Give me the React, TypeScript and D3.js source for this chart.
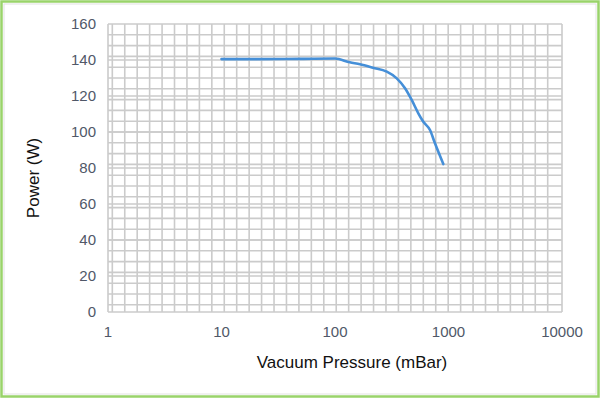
import * as d3 from "d3";
import { useEffect, useRef } from "react";

// pressure in mBar (log axis) vs power in W
const pressure = [10, 20, 50, 100, 135, 166, 216, 286, 350, 414, 474, 542, 600, 687, 760, 900];
const power = [140.5, 140.5, 140.6, 140.8, 138.7, 137.6, 135.7, 133.5, 129.8, 124.3, 117.8, 110.4, 105.7, 101.1, 93.7, 82.2];

const xTicks = [1, 10, 100, 1000, 10000];
const yTicks = [0, 20, 40, 60, 80, 100, 120, 140, 160];

function App() {
  const ref = useRef<SVGSVGElement | null>(null);

  useEffect(() => {
    const W = 600, H = 398;
    const left = 108, right = 562, top = 24, bottom = 312;

    const svg = d3.select(ref.current);
    svg.selectAll("*").remove();

    const x = d3.scaleLog().domain([1, 10000]).range([left, right]);
    const y = d3.scaleLinear().domain([0, 160]).range([bottom, top]);

    svg.append("rect").attr("width", W).attr("height", H).attr("fill", "#fff");

    const grid = svg.append("g").attr("stroke", "#cbcbcb").attr("stroke-width", 1.6);

    // vertical grid: evenly spaced in log space
    const vLines = d3.range(36).map(k => Math.pow(10, 0.038 + 0.1096 * k)).concat([1, 10000]);
    grid.selectAll(".v").data(vLines).join("line")
      .attr("x1", d => x(d)).attr("x2", d => x(d))
      .attr("y1", top).attr("y2", bottom);

    // horizontal grid: majors every 20, minors every 6 down from the top
    const hLines = yTicks.concat(d3.range(1, 27).map(k => 160 - 6 * k));
    grid.selectAll(".h").data(hLines).join("line")
      .attr("x1", left).attr("x2", right)
      .attr("y1", d => y(d)).attr("y2", d => y(d));

    const font = "'Liberation Sans', Arial, sans-serif";

    svg.append("g").selectAll("text").data(yTicks).join("text")
      .attr("x", 96).attr("y", d => y(d) + 5)
      .attr("text-anchor", "end")
      .attr("font-family", font).attr("font-size", 15).attr("fill", "#505868")
      .text(d => d);

    svg.append("g").selectAll("text").data(xTicks).join("text")
      .attr("x", d => x(d)).attr("y", 337)
      .attr("text-anchor", "middle")
      .attr("font-family", font).attr("font-size", 15).attr("fill", "#505868")
      .text(d => d);

    const line = d3.line<number>()
      .x((_, i) => x(pressure[i]))
      .y(d => y(d))
      .curve(d3.curveMonotoneX);

    svg.append("path").datum(power)
      .attr("d", line)
      .attr("fill", "none")
      .attr("stroke", "#458fd8")
      .attr("stroke-width", 2.6)
      .attr("stroke-linecap", "round");

    svg.append("text")
      .attr("x", 352).attr("y", 368)
      .attr("text-anchor", "middle")
      .attr("font-family", font).attr("font-size", 17).attr("fill", "#111")
      .text("Vacuum Pressure (mBar)");

    svg.append("text")
      .attr("transform", "translate(39,178) rotate(-90)")
      .attr("text-anchor", "middle")
      .attr("font-family", font).attr("font-size", 17).attr("fill", "#111")
      .text("Power (W)");

    svg.append("rect")
      .attr("x", 4).attr("y", 4).attr("width", W - 8).attr("height", H - 8)
      .attr("fill", "none").attr("stroke", "#e2e2e2").attr("stroke-width", 1);

    svg.append("rect")
      .attr("x", 1.5).attr("y", 1.5).attr("width", W - 3).attr("height", H - 3)
      .attr("fill", "none").attr("stroke", "#99d36a").attr("stroke-width", 2.5);
  }, []);

  return (
    <svg ref={ref} width={600} height={398}
      style={{ position: "absolute", left: 0, top: 0, display: "block" }} />
  );
}

export default App;
